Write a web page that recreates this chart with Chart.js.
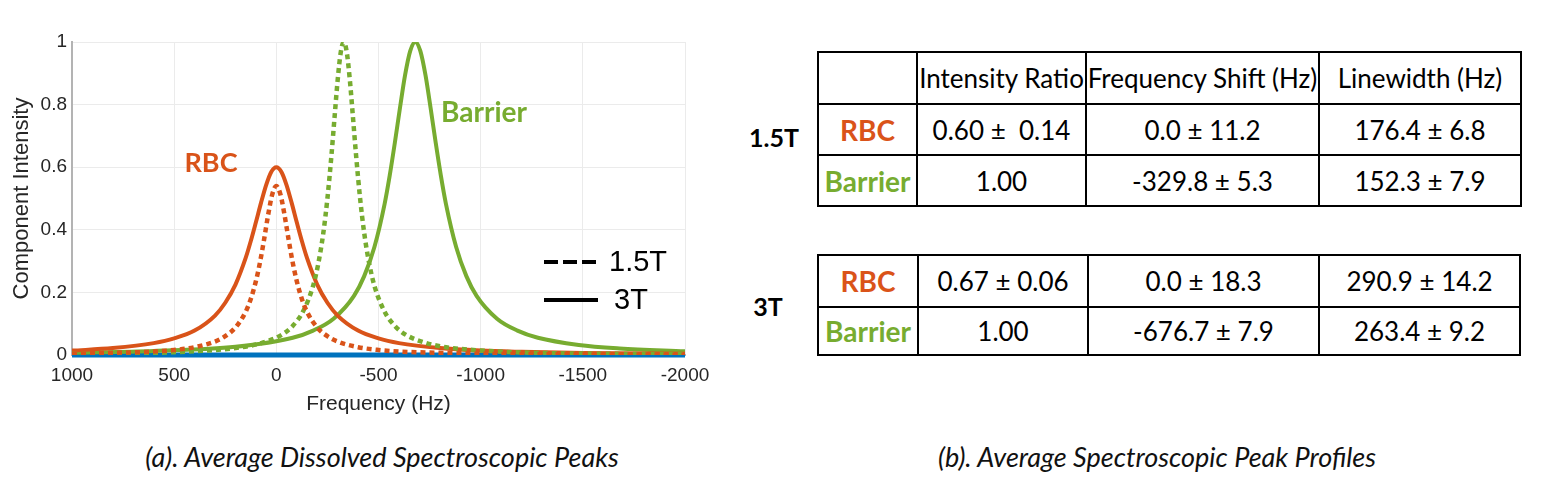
<!DOCTYPE html>
<html>
<head>
<meta charset="utf-8">
<script src="https://cdn.jsdelivr.net/npm/chart.js@4.4.0/dist/chart.umd.min.js"></script>
<style>
  body { margin: 0; width: 1550px; height: 491px; background: #fff; position: relative; overflow: hidden; font-family: Lato, "Open Sans", sans-serif; }
  #plot { position: absolute; left: 0; top: 0; width: 720px; height: 430px; }
  table.peaks { position: absolute; left: 817px; border-collapse: collapse; table-layout: fixed; font-size: 26px; color: #000; }
  table.peaks td { border: 2px solid #000; text-align: center; padding: 0; white-space: nowrap; }
  .rbc { color: #DA5319; font-weight: bold; font-size: 28px; }
  .bar { color: #77AC30; font-weight: bold; font-size: 28px; }
  .field { position: absolute; font-weight: bold; font-size: 25px; transform: translate(-50%, -50%); }
  .caption { position: absolute; top: 456px; font-style: italic; font-size: 27px; color: #111; transform: translate(-50%, -50%); white-space: nowrap; }
</style>
</head>
<body>
<div id="plot"><canvas id="chart"></canvas></div>

<div class="field" style="left:774px; top:137px;">1.5T</div>
<table class="peaks" style="top:51px;">
  <colgroup><col style="width:99px"><col style="width:169px"><col style="width:233px"><col style="width:202px"></colgroup>
  <tr style="height:52px"><td></td><td>Intensity Ratio</td><td>Frequency Shift (Hz)</td><td>Linewidth (Hz)</td></tr>
  <tr style="height:51px"><td class="rbc">RBC</td><td>0.60 ±&nbsp; 0.14</td><td>0.0 ± 11.2</td><td>176.4 ± 6.8</td></tr>
  <tr style="height:51px"><td class="bar">Barrier</td><td>1.00</td><td>-329.8 ± 5.3</td><td>152.3 ± 7.9</td></tr>
</table>

<div class="field" style="left:768px; top:306px;">3T</div>
<table class="peaks" style="top:254px;">
  <colgroup><col style="width:100px"><col style="width:170px"><col style="width:231px"><col style="width:201px"></colgroup>
  <tr style="height:52px"><td class="rbc">RBC</td><td>0.67 ± 0.06</td><td>0.0 ± 18.3</td><td>290.9 ± 14.2</td></tr>
  <tr style="height:48px"><td class="bar">Barrier</td><td>1.00</td><td>-676.7 ± 7.9</td><td>263.4 ± 9.2</td></tr>
</table>

<div class="caption" style="left:382px;">(a). Average Dissolved Spectroscopic Peaks</div>
<div class="caption" style="left:1157px;">(b). Average Spectroscopic Peak Profiles</div>

<script>
// frequency (Hz) and component intensity
const rbc3tFreq = [1000, 800, 600, 500, 400, 300, 250, 200, 150, 125, 100, 75, 50, 25, 0, -25, -50, -75, -100, -125, -150, -200, -250, -300, -400, -500, -600, -800, -1000, -1200, -1500, -2000];
const rbc3t = [0.014, 0.022, 0.038, 0.053, 0.078, 0.126, 0.167, 0.225, 0.310, 0.364, 0.424, 0.486, 0.543, 0.585, 0.600, 0.585, 0.543, 0.486, 0.424, 0.364, 0.310, 0.225, 0.167, 0.126, 0.078, 0.053, 0.038, 0.022, 0.014, 0.010, 0.006, 0.004];

const rbc15tFreq = [1000, 800, 600, 500, 400, 300, 250, 200, 150, 125, 100, 80, 60, 40, 20, 0, -20, -40, -60, -80, -100, -125, -150, -200, -250, -300, -400, -500, -600, -800, -1000, -1200, -1500, -2000];
const rbc15t = [0.004, 0.007, 0.011, 0.016, 0.025, 0.043, 0.060, 0.088, 0.138, 0.179, 0.236, 0.296, 0.369, 0.448, 0.513, 0.540, 0.513, 0.448, 0.369, 0.296, 0.236, 0.179, 0.138, 0.088, 0.060, 0.043, 0.025, 0.016, 0.011, 0.007, 0.004, 0.003, 0.002, 0.001];

const barrier15tFreq = [1000, 500, 170, 70, -30, -80, -130, -180, -205, -230, -250, -270, -285, -300, -315, -330, -345, -360, -375, -390, -410, -430, -455, -480, -530, -580, -630, -730, -830, -1030, -1330, -1600, -2000];
const barrier15t = [0.004, 0.009, 0.025, 0.039, 0.066, 0.093, 0.138, 0.221, 0.291, 0.390, 0.500, 0.640, 0.760, 0.877, 0.966, 1.000, 0.966, 0.877, 0.760, 0.640, 0.500, 0.390, 0.291, 0.221, 0.138, 0.093, 0.066, 0.039, 0.025, 0.013, 0.006, 0.004, 0.002];

const barrier3tFreq = [1000, 600, 200, -80, -180, -280, -380, -430, -480, -530, -555, -580, -605, -630, -655, -680, -705, -730, -755, -780, -805, -830, -880, -930, -980, -1080, -1180, -1280, -1480, -1680, -2000];
const barrier3t = [0.007, 0.013, 0.026, 0.055, 0.078, 0.116, 0.189, 0.252, 0.345, 0.483, 0.574, 0.678, 0.789, 0.894, 0.971, 1.000, 0.971, 0.894, 0.789, 0.678, 0.574, 0.483, 0.345, 0.252, 0.189, 0.116, 0.078, 0.055, 0.032, 0.021, 0.012];

const baselineFreq = [1000, -2000];
const baseline = [0, 0];

const xTicks = [1000, 500, 0, -500, -1000, -1500, -2000];
const yTicks = [0, 0.2, 0.4, 0.6, 0.8, 1];

const RED = '#D95319';
const GREEN = '#77AC30';
const BLUE = '#0072BD';

const pts = (xs, ys) => xs.map((x, i) => ({ x: x, y: ys[i] }));

// peak labels and the field-strength key
const notes = {
    id: 'notes',
    afterDatasetsDraw(chart) {
        const ctx = chart.ctx;
        ctx.save();
        ctx.textAlign = 'center';
        ctx.textBaseline = 'middle';
        ctx.font = 'bold 27px Lato, "Open Sans", sans-serif';
        ctx.fillStyle = RED;
        ctx.fillText('RBC', 211, 163);
        ctx.font = 'bold 28px Lato, "Open Sans", sans-serif';
        ctx.fillStyle = GREEN;
        ctx.fillText('Barrier', 484, 113);

        ctx.strokeStyle = '#000';
        ctx.lineWidth = 4;
        ctx.setLineDash([14, 5]);
        ctx.beginPath();
        ctx.moveTo(544, 262);
        ctx.lineTo(598, 262);
        ctx.stroke();
        ctx.setLineDash([]);
        ctx.beginPath();
        ctx.moveTo(544, 300);
        ctx.lineTo(598, 300);
        ctx.stroke();

        ctx.fillStyle = '#000';
        ctx.textAlign = 'left';
        ctx.font = '29px "Liberation Sans", Arial, sans-serif';
        ctx.fillText('1.5T', 609, 263);
        ctx.fillText('3T', 614, 301);
        ctx.restore();
    }
};

const tickFont = { family: '"Liberation Sans", Arial, sans-serif', size: 19 };

new Chart(document.getElementById('chart'), {
    type: 'line',
    data: {
        datasets: [
            { label: 'RBC 1.5T', data: pts(rbc15tFreq, rbc15t), borderColor: RED, borderWidth: 4.5, borderDash: [5, 4] },
            { label: 'Barrier 1.5T', data: pts(barrier15tFreq, barrier15t), borderColor: GREEN, borderWidth: 4.5, borderDash: [5, 4] },
            { label: 'RBC 3T', data: pts(rbc3tFreq, rbc3t), borderColor: RED, borderWidth: 4 },
            { label: 'Barrier 3T', data: pts(barrier3tFreq, barrier3t), borderColor: GREEN, borderWidth: 4 },
            { label: 'Baseline', data: pts(baselineFreq, baseline), borderColor: BLUE, borderWidth: 5, clip: false }
        ]
    },
    options: {
        responsive: true,
        maintainAspectRatio: false,
        animation: false,
        layout: { padding: { top: 42, right: 35, left: 0, bottom: 0 } },
        elements: {
            point: { radius: 0 },
            line: { cubicInterpolationMode: 'monotone', fill: false, borderCapStyle: 'butt' }
        },
        plugins: {
            legend: { display: false },
            tooltip: { enabled: false }
        },
        scales: {
            x: {
                type: 'linear',
                reverse: true,
                min: -2000,
                max: 1000,
                afterBuildTicks: (scale) => { scale.ticks = xTicks.map(v => ({ value: v })); },
                afterFit: (scale) => { scale.height = 75; },
                ticks: { font: tickFont, color: '#262626', padding: 9, maxRotation: 0, callback: (v) => String(v) },
                grid: { color: '#ebebeb', lineWidth: 1, drawTicks: false },
                border: { color: '#b3b3b3', width: 2 },
                title: { display: true, text: 'Frequency (Hz)', font: { family: tickFont.family, size: 21 }, color: '#262626', padding: { top: 0, bottom: 13 } }
            },
            y: {
                min: 0,
                max: 1,
                afterBuildTicks: (scale) => { scale.ticks = yTicks.map(v => ({ value: v })); },
                afterFit: (scale) => { scale.width = 72; },
                ticks: { font: tickFont, color: '#262626', padding: 5, callback: (v) => String(v) },
                grid: { color: '#ebebeb', lineWidth: 1, drawTicks: false },
                border: { color: '#b3b3b3', width: 2 },
                title: { display: true, text: 'Component Intensity', font: { family: tickFont.family, size: 22 }, color: '#262626', padding: { top: 9, bottom: 0 } }
            }
        }
    },
    plugins: [notes]
});
</script>
</body>
</html>
